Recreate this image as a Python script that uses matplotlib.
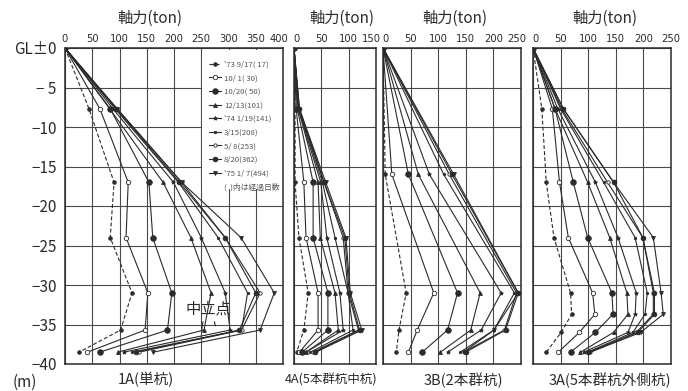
#!/usr/bin/env python3
"""Axial force distribution along piles (1A, 4A, 3B, 3A) for each measurement date."""

import matplotlib

matplotlib.use("Agg")
import matplotlib.pyplot as plt
import matplotlib.transforms as mtransforms
from matplotlib import font_manager
from matplotlib.lines import Line2D
from matplotlib.patches import Rectangle

plt.rcParams["font.family"] = ["Noto Sans CJK JP", "DejaVu Sans"]

# measurement dates (legend order)
dates = [
    "'73 9/17( 17)",
    "10/ 1( 30)",
    "10/20( 50)",
    "12/13(101)",
    "'74 1/19(141)",
    "3/15(208)",
    "5/ 8(253)",
    "8/20(362)",
    "'75 1/ 7(494)",
]
legend_note = "(  )内は経過日数"

# 1A (single pile)
depth_1a = [0, -7.7, -17, -24, -31, -35.7, -38.5]
force_1a = [
    [0, 44, 90, 83, 123, 102, 26],
    [0, 64, 116, 112, 152, 147, 41],
    [0, 83, 154, 161, 196, 188, 64],
    [0, 82, 180, 231, 268, 255, 97],
    [0, 88, 199, 250, 294, 303, 108],
    [0, 92, 208, 281, 335, 324, 123],
    [0, 95, 214, 294, 358, 324, 136],
    [0, 94, 210, 294, 350, 320, 130],
    [0, 96, 214, 323, 384, 358, 162],
]

# 4A (centre pile of 5-pile group)
depth_4a = [0, -7.7, -17, -24, -31, -35.7, -38.5]
force_4a = [
    [0, 2, 2, 9, 26, 18, 5],
    [0, 4, 18, 22, 44, 44, 10],
    [0, 6, 35, 35, 62, 62, 15],
    [0, 8, 44, 48, 75, 81, 22],
    [0, 8, 49, 60, 84, 90, 22],
    [0, 9, 52, 75, 99, 108, 30],
    [0, 9, 55, 90, 99, 118, 35],
    [0, 10, 55, 93, 101, 120, 38],
    [0, 10, 58, 95, 103, 124, 40],
]

# 3B (2-pile group)
depth_3b = [0, -16, -31, -35.7, -38.5]
force_3b = [
    [0, 4, 42, 29, 24],
    [0, 16, 92, 62, 46],
    [0, 46, 135, 117, 71],
    [0, 64, 176, 159, 104],
    [0, 84, 214, 178, 117],
    [0, 110, 238, 201, 140],
    [0, 120, 242, 220, 146],
    [0, 125, 245, 222, 150],
    [0, 128, 245, 201, 146],
]

# 3A (outer pile of 5-pile group)
depth_3a = [0, -7.7, -17, -24, -31, -33.7, -36, -38.5]
force_3a = [
    [0, 16, 24, 38, 68, 70, 51, 24],
    [0, 35, 48, 64, 108, 112, 84, 46],
    [0, 40, 73, 99, 143, 145, 113, 68],
    [0, 40, 99, 139, 170, 172, 146, 86],
    [0, 45, 113, 154, 187, 185, 172, 92],
    [0, 50, 128, 185, 207, 203, 181, 99],
    [0, 52, 135, 199, 218, 218, 187, 104],
    [0, 55, 146, 199, 220, 220, 190, 100],
    [0, 55, 146, 218, 232, 236, 195, 104],
]

panel_names = ["1A(単杭)", "4A(5本群杭中杭)", "3B(2本群杭)", "3A(5本群杭外側杭)"]
xmax = [400, 150, 250, 250]
depth_ticks = [0, -5, -10, -15, -20, -25, -30, -35, -40]
depth_labels = ["GL±0", "− 5", "−10", "−15", "−20", "−25", "−30", "−35", "−40"]

INK = "#2b2b2b"
GRID = "#4a4a4a"
STYLES = [
    dict(marker="o", ms=2.6, mfc=INK, ls=(0, (3.5, 2))),
    dict(marker="o", ms=3.2, mfc="white", ls="-"),
    dict(marker="o", ms=4.0, mfc=INK, ls="-"),
    dict(marker="^", ms=2.8, mfc=INK, ls="-"),
    dict(marker="*", ms=3.0, mfc=INK, ls="-"),
    dict(marker=".", ms=3.5, mfc=INK, ls="-"),
    dict(marker="o", ms=2.4, mfc="white", ls="-"),
    dict(marker="o", ms=3.4, mfc=INK, ls="-"),
    dict(marker="v", ms=2.8, mfc=INK, ls="-"),
]

_installed = {f.name for f in font_manager.fontManager.ttflist}
if "Liberation Sans Narrow" in _installed:
    TICK_FONT, TICK_SIZE = ["Liberation Sans Narrow"], 9.0
else:
    TICK_FONT, TICK_SIZE = ["DejaVu Sans"], 7.2


def _px(x0, x1):
    return x0 / 688, (x1 - x0) / 688


def _draw_panel(ax, depth, forces, top):
    for series, st in zip(forces, STYLES):
        ax.plot(series, depth, color=INK, lw=0.8, ls=st["ls"], marker=st["marker"],
                ms=st["ms"], mfc=st["mfc"], mec=INK, mew=0.6, zorder=3)
    ax.set_xlim(0, top)
    ax.set_ylim(-40, 0)
    ax.set_xticks(range(0, top + 1, 50))
    ax.set_yticks(depth_ticks)
    ax.grid(True, color=GRID, lw=0.8)
    ax.set_axisbelow(True)
    for sp in ax.spines.values():
        sp.set_color(INK)
        sp.set_linewidth(1.1)
    ax.tick_params(axis="x", top=True, labeltop=True, bottom=False, labelbottom=False,
                   length=0, pad=3, labelsize=TICK_SIZE, colors=INK)
    ax.tick_params(axis="y", left=False, labelleft=False, length=0)
    for lbl in ax.get_xticklabels():
        lbl.set_fontfamily(TICK_FONT)


def main():
    fig = plt.figure(figsize=(6.88, 3.91), dpi=100)
    bottom, height = 1 - 364 / 391, 316 / 391
    edges = [(65, 283), (294, 376), (383, 521), (533, 671)]
    data = [(depth_1a, force_1a), (depth_4a, force_4a), (depth_3b, force_3b), (depth_3a, force_3a)]
    axes = []
    for (x0, x1), (depth, forces), top in zip(edges, data, xmax):
        left, width = _px(x0, x1)
        ax = fig.add_axes([left, bottom, width, height])
        _draw_panel(ax, depth, forces, top)
        axes.append(ax)

    # the end labels of neighbouring panels nearly touch: nudge them apart a little
    for ax in axes[:-1]:
        last = ax.get_xticklabels()[-1]
        last.set_transform(last.get_transform() + mtransforms.ScaledTranslation(-3 / 72, 0, fig.dpi_scale_trans))
    for ax in axes[1:]:
        first = ax.get_xticklabels()[0]
        first.set_transform(first.get_transform() + mtransforms.ScaledTranslation(1.5 / 72, 0, fig.dpi_scale_trans))

    ax1 = axes[0]
    ax1.tick_params(axis="y", labelleft=True, pad=6, labelsize=11, colors=INK)
    ax1.set_yticklabels(depth_labels)

    # legend box over the grid in the upper right of 1A
    ax1.add_patch(Rectangle((0.628, 0.555), 0.372, 0.44, transform=ax1.transAxes,
                            facecolor="white", edgecolor="none", zorder=2.5))
    handles = [Line2D([], [], color=INK, lw=0.8, ls=st["ls"], marker=st["marker"], ms=st["ms"],
                      mfc=st["mfc"], mec=INK, mew=0.6) for st in STYLES]
    handles.append(Line2D([], [], ls="none"))
    leg = ax1.legend(handles, dates + [legend_note], loc="upper left", bbox_to_anchor=(0.64, 0.975),
                     frameon=False, fontsize=5.6, handlelength=1.5, handletextpad=0.4,
                     labelspacing=0.72, borderaxespad=0.2)
    leg.set_zorder(4)
    for t in leg.get_texts():
        t.set_color("#555555")

    ax1.annotate("", xy=(250, -36.0), xytext=(254, -34.3), arrowprops=dict(arrowstyle="-", color=INK, lw=0.8))
    ax1.annotate("", xy=(277, -35.5), xytext=(273, -34.3), arrowprops=dict(arrowstyle="-", color=INK, lw=0.8))
    ax1.text(263, -33.0, "中立点", fontsize=11, color=INK, ha="center", va="center", zorder=5)

    for xc in [150, 342, 455, 605]:
        fig.text(xc / 688, 1 - 18 / 391, "軸力(ton)", fontsize=11, color=INK, ha="center", va="center")
    for xc, name, size in zip([146, 331, 463, 610], panel_names, [10.5, 9, 10.5, 10.5]):
        fig.text(xc / 688, 1 - 380 / 391, name, fontsize=size, color=INK, ha="center", va="center")
    fig.text(25 / 688, 1 - 382 / 391, "(m)", fontsize=11, color=INK, ha="center", va="center")

    fig.savefig("out.png", dpi=100)
    plt.close(fig)


if __name__ == "__main__":
    main()
